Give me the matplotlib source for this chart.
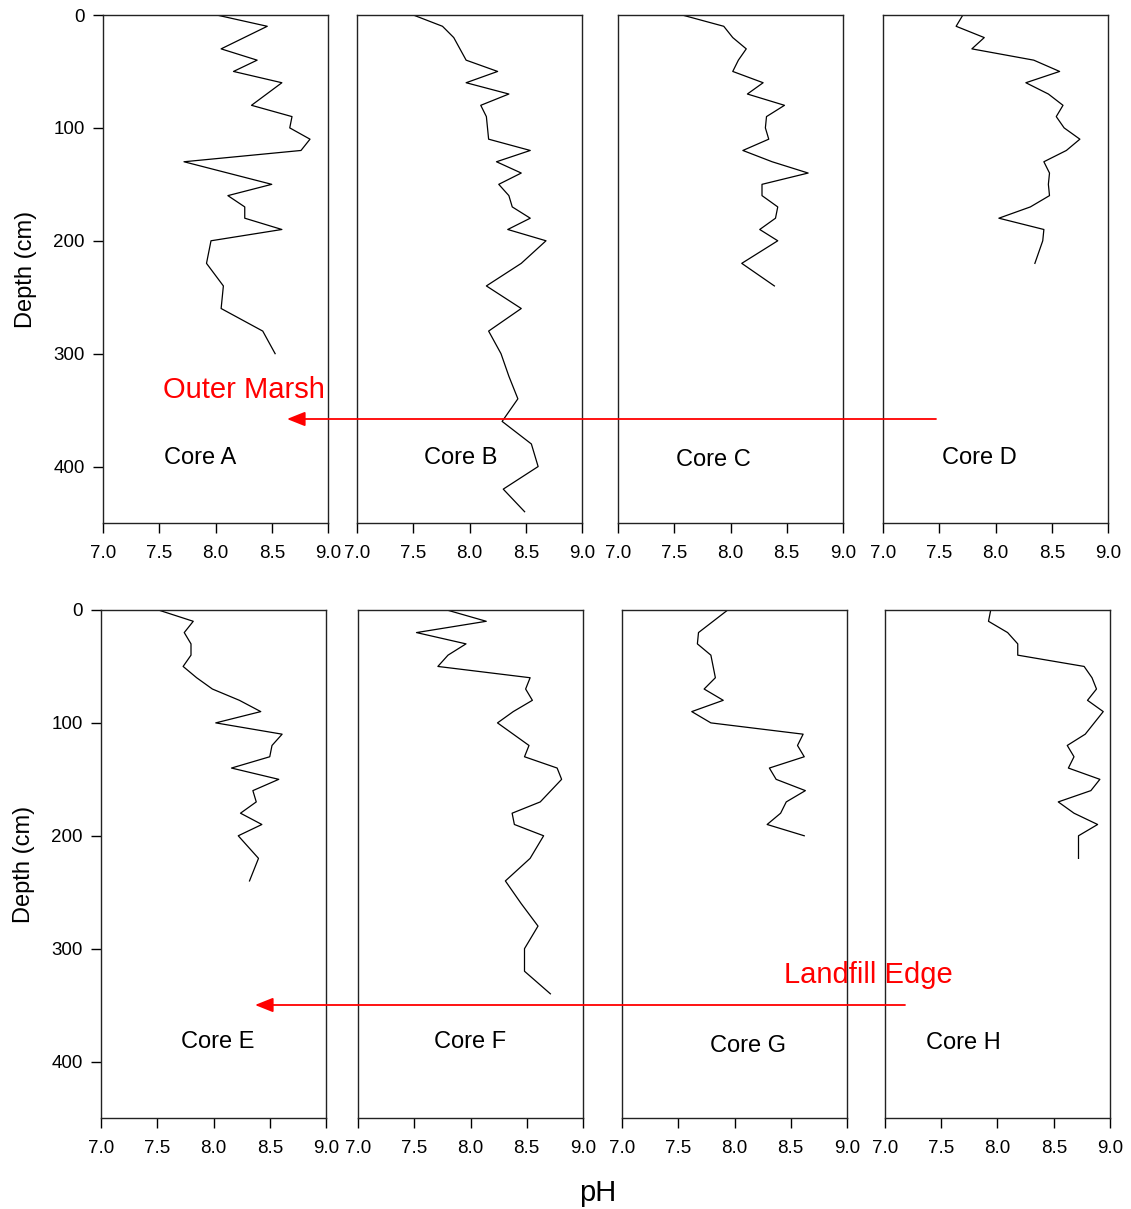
import matplotlib
matplotlib.use("Agg")
import matplotlib.pyplot as plt
from matplotlib.patches import FancyArrowPatch

plt.rcParams['font.family'] = ['Liberation Sans', 'DejaVu Sans']

# ---------------- data ----------------
depth_A = [0, 10, 30, 40, 50, 60, 80, 90, 100, 110, 120, 130, 150, 160, 170, 180, 190, 200, 220, 240, 260, 280, 300]
ph_A = [8.01, 8.46, 8.05, 8.37, 8.16, 8.59, 8.32, 8.68, 8.66, 8.84, 8.76, 7.72, 8.50, 8.11, 8.26, 8.26, 8.59, 7.96, 7.92, 8.07, 8.05, 8.42, 8.53]

depth_B = [0, 10, 20, 40, 50, 60, 70, 80, 90, 110, 120, 130, 140, 150, 160, 170, 180, 190, 200, 220, 240, 260, 280, 300, 320, 340, 360, 380, 400, 420, 440]
ph_B = [7.50, 7.76, 7.86, 7.97, 8.25, 7.97, 8.35, 8.10, 8.15, 8.17, 8.54, 8.24, 8.46, 8.26, 8.35, 8.38, 8.54, 8.34, 8.68, 8.46, 8.15, 8.46, 8.17, 8.28, 8.35, 8.43, 8.29, 8.55, 8.61, 8.30, 8.49]

depth_C = [0, 10, 20, 30, 40, 50, 60, 70, 80, 90, 100, 110, 120, 130, 140, 150, 160, 170, 180, 190, 200, 220, 240]
ph_C = [7.57, 7.94, 8.02, 8.14, 8.07, 8.02, 8.29, 8.15, 8.48, 8.32, 8.31, 8.34, 8.11, 8.37, 8.69, 8.28, 8.28, 8.42, 8.40, 8.26, 8.42, 8.10, 8.39]

depth_D = [0, 10, 20, 30, 40, 50, 60, 70, 80, 90, 100, 110, 120, 130, 140, 150, 160, 170, 180, 190, 200, 220]
ph_D = [7.71, 7.65, 7.90, 7.79, 8.34, 8.57, 8.27, 8.47, 8.60, 8.54, 8.61, 8.75, 8.63, 8.43, 8.48, 8.47, 8.48, 8.31, 8.03, 8.43, 8.42, 8.35]

depth_E = [0, 10, 20, 30, 40, 50, 60, 70, 80, 90, 100, 110, 120, 130, 140, 150, 160, 170, 180, 190, 200, 220, 240]
ph_E = [7.51, 7.82, 7.74, 7.80, 7.80, 7.73, 7.85, 7.99, 8.23, 8.42, 8.02, 8.61, 8.52, 8.50, 8.16, 8.58, 8.35, 8.38, 8.24, 8.43, 8.22, 8.40, 8.32]

depth_F = [0, 10, 20, 30, 40, 50, 60, 70, 80, 90, 100, 120, 130, 140, 150, 170, 180, 190, 200, 220, 240, 260, 280, 300, 320, 340]
ph_F = [7.79, 8.14, 7.52, 7.96, 7.80, 7.71, 8.53, 8.49, 8.55, 8.38, 8.24, 8.52, 8.48, 8.77, 8.81, 8.62, 8.37, 8.39, 8.65, 8.53, 8.31, 8.45, 8.60, 8.48, 8.48, 8.71]

depth_G = [0, 20, 30, 40, 60, 70, 80, 90, 100, 110, 120, 130, 140, 150, 160, 170, 180, 190, 200]
ph_G = [7.94, 7.68, 7.67, 7.79, 7.83, 7.73, 7.90, 7.62, 7.79, 8.61, 8.56, 8.62, 8.31, 8.37, 8.63, 8.46, 8.41, 8.29, 8.62]

depth_H = [0, 10, 20, 30, 40, 50, 60, 70, 80, 90, 110, 120, 130, 140, 150, 160, 170, 180, 190, 200, 220]
ph_H = [7.94, 7.92, 8.09, 8.18, 8.18, 8.77, 8.84, 8.88, 8.80, 8.94, 8.78, 8.62, 8.68, 8.63, 8.91, 8.83, 8.54, 8.68, 8.89, 8.72, 8.72]

core_names = ["Core A", "Core B", "Core C", "Core D", "Core E", "Core F", "Core G", "Core H"]
x_ticks = [7.0, 7.5, 8.0, 8.5, 9.0]
x_tick_labels = ["7.0", "7.5", "8.0", "8.5", "9.0"]
y_ticks = [0, 100, 200, 300, 400]
y_tick_labels = ["0", "100", "200", "300", "400"]

# ---------------- layout ----------------
W, H = 1131, 1209
fig = plt.figure(figsize=(W / 100, H / 100), dpi=100)

# pixel boxes (x0, y0, x1, y1)
boxes = [
    (103, 15, 328, 523), (357, 15, 582, 523), (618, 15, 843, 523), (883, 15, 1108, 523),
    (101, 610, 326, 1118), (358, 610, 583, 1118), (622, 610, 847, 1118), (885, 610, 1110, 1118),
]
series = [(ph_A, depth_A), (ph_B, depth_B), (ph_C, depth_C), (ph_D, depth_D),
          (ph_E, depth_E), (ph_F, depth_F), (ph_G, depth_G), (ph_H, depth_H)]
label_pos = [(7.86, 392), (7.92, 392), (7.85, 394), (7.86, 392),
             (8.04, 383), (8.00, 383), (8.12, 386), (7.70, 384)]

axes = []
for i, ((x0, y0, x1, y1), (ph, d)) in enumerate(zip(boxes, series)):
    ax = fig.add_axes([x0 / W, 1 - y1 / H, (x1 - x0) / W, (y1 - y0) / H])
    ax.plot(ph, d, color='black', lw=0.9)
    ax.set_xlim(7.0, 9.0)
    ax.set_ylim(450, 0)
    ax.set_xticks(x_ticks)
    ax.set_xticklabels(x_tick_labels)
    ax.tick_params(axis='x', direction='out', length=7, width=1, labelsize=13.5, pad=9, colors='black')
    for s in ax.spines.values():
        s.set_linewidth(1.0)
        s.set_color('#222222')
    if i in (0, 4):
        ax.set_yticks(y_ticks)
        ax.set_yticklabels(y_tick_labels)
        ax.tick_params(axis='y', direction='out', length=7, width=1, labelsize=13.5, pad=6)
        ax.set_ylabel("Depth (cm)", fontsize=17, labelpad=12)
    else:
        ax.set_yticks([])
    ax.text(label_pos[i][0], label_pos[i][1], core_names[i], fontsize=17,
            ha='center', va='center')
    axes.append(ax)

# overlay for annotations (figure pixel coordinates)
ov = fig.add_axes([0, 0, 1, 1], facecolor='none')
ov.set_xlim(0, W)
ov.set_ylim(H, 0)
ov.axis('off')

for (xs, xe, yy) in [(936, 287, 419), (905, 255, 1005)]:
    arr = FancyArrowPatch((xs, yy), (xe, yy), arrowstyle='-|>,head_length=0.55,head_width=0.22',
                          mutation_scale=20, color='red', lw=1.3, shrinkA=0, shrinkB=0)
    ov.add_patch(arr)

ov.text(244, 390, "Outer Marsh", color='red', fontsize=21, ha='center', va='center')
ov.text(868, 975, "Landfill Edge", color='red', fontsize=21, ha='center', va='center')
ov.text(598, 1193, "pH", fontsize=21, ha='center', va='center')

fig.savefig("out.png", dpi=100)
